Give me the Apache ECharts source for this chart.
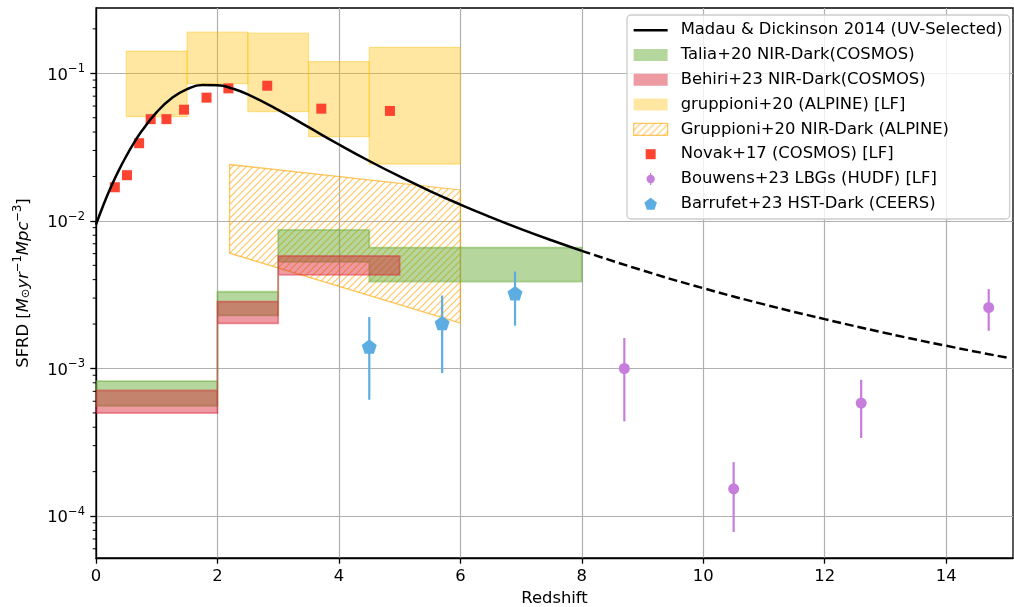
<!DOCTYPE html>
<html><head><meta charset="utf-8">
<script src="https://cdn.jsdelivr.net/npm/echarts@6/dist/echarts.min.js"></script>
<style>html,body{margin:0;padding:0;background:#fff}#c{width:1014px;height:607px}</style>
</head><body><div id="c"></div>
<script>
// ---------------- data ----------------
const madauSolidZ = [0,0.125,0.25,0.375,0.5,0.625,0.75,1,1.25,1.5,1.75,2,2.25,2.5,3,3.5,4,4.5,5,5.5,6,6.5,7,7.5,8];
const madauSolidV = [0.00943,0.01292,0.01711,0.02199,0.02755,0.03374,0.04043,0.05459,0.06798,0.07814,0.08325,0.08307,0.07874,0.07197,0.05656,0.04314,0.03294,0.02546,0.01999,0.01594,0.01291,0.01060,0.00880,0.00739,0.00627];
const madauDashZ = [8,9,10,11,12,13,14,15];
const madauDashV = [0.00627,0.00462,0.00350,0.00272,0.00216,0.00174,0.001425,0.001185];

const taliaZ0 = [0,2,3,4.5];
const taliaZ1 = [2,3,4.5,8];
const taliaLo = [0.000559,0.00229,0.00528,0.00388];
const taliaHi = [0.000822,0.00331,0.00868,0.00660];

const behiriZ0 = [0,2,3];
const behiriZ1 = [2,3,5];
const behiriLo = [0.000499,0.00202,0.00431];
const behiriHi = [0.00071,0.00284,0.00579];

const gruppZ0 = [0.5,1.5,2.5,3.5,4.5];
const gruppZ1 = [1.5,2.5,3.5,4.5,6.0];
const gruppLo = [0.0508,0.085,0.055,0.0372,0.0243];
const gruppHi = [0.1415,0.19,0.187,0.12,0.150];

const nirZ  = [2.2,6.0];
const nirLo = [0.00604,0.00203];
const nirHi = [0.0241,0.0162];

const novakZ = [0.31,0.51,0.71,0.90,1.16,1.45,1.82,2.18,2.82,3.71,4.84];
const novakV = [0.0169,0.0204,0.0336,0.0489,0.0489,0.0567,0.0684,0.0791,0.0824,0.0576,0.0556];

const bouwensZ  = [8.7,10.5,12.6,14.7];
const bouwensV  = [0.00100,0.000153,0.000583,0.00259];
const bouwensLo = [0.000438,0.0000780,0.000338,0.00180];
const bouwensHi = [0.00161,0.000232,0.000838,0.00345];

const barrufetZ  = [4.5,5.7,6.9];
const barrufetV  = [0.00141,0.00203,0.00324];
const barrufetLo = [0.000614,0.000931,0.00195];
const barrufetHi = [0.00223,0.00312,0.00454];

const xTicks = [0,2,4,6,8,10,12,14];
const yMajorTicks = [1e-4,1e-3,1e-2,1e-1];
const yMinorTicks = [6e-5,7e-5,8e-5,9e-5,2e-4,3e-4,4e-4,5e-4,6e-4,7e-4,8e-4,9e-4,2e-3,3e-3,4e-3,5e-3,6e-3,7e-3,8e-3,9e-3,2e-2,3e-2,4e-2,5e-2,6e-2,7e-2,8e-2,9e-2,2e-1];

const N_MADAU = 'Madau & Dickinson 2014 (UV-Selected)';
const N_TALIA = 'Talia+20 NIR-Dark(COSMOS)';
const N_BEHIRI = 'Behiri+23 NIR-Dark(COSMOS)';
const N_GRUPP = 'gruppioni+20 (ALPINE) [LF]';
const N_NIR = 'Gruppioni+20 NIR-Dark (ALPINE)';
const N_NOVAK = 'Novak+17 (COSMOS) [LF]';
const N_BOUW = 'Bouwens+23 LBGs (HUDF) [LF]';
const N_BARR = 'Barrufet+23 HST-Dark (CEERS)';

// ---------------- styles ----------------
const FONT = 'DejaVu Sans';
const FS = 16.4;
const YEL = 'rgba(255,191,0,0.37)';
const GRN = 'rgba(100,170,50,0.48)';
const RED = 'rgba(215,30,50,0.45)';
const HATCH = 'rgba(255,165,0,0.62)';
const NOVAKC = '#fd4430';
const BOUWC = '#c77ddc';
const BARRC = '#5dade2';
const PENTA = 'path://M6.5,0L13,4.9L10.5,12.5L2.5,12.5L0,4.9Z';

function hatchPattern(){
  const s = 7, c = document.createElement('canvas');
  c.width = s; c.height = s;
  const g = c.getContext('2d');
  g.strokeStyle = HATCH; g.lineWidth = 1.2;
  g.beginPath();
  g.moveTo(0, s); g.lineTo(s, 0);
  g.moveTo(-1, 1); g.lineTo(1, -1);
  g.moveTo(s - 1, s + 1); g.lineTo(s + 1, s - 1);
  g.stroke();
  return {image: c, repeat: 'repeat'};
}
const PAT = hatchPattern();

function rows4(a, b, c, d){ return a.map((v, i) => [v, b[i], c[i], d[i]]); }
function pairs(a, b){ return a.map((v, i) => [v, b[i]]); }

function stepPolygon(z0, z1, lo, hi, color){
  return function(params, api){
    if (params.dataIndex !== 0) return null;
    const pts = [];
    for (let i = 0; i < z0.length; i++){ pts.push(api.coord([z0[i], hi[i]])); pts.push(api.coord([z1[i], hi[i]])); }
    for (let i = z0.length - 1; i >= 0; i--){ pts.push(api.coord([z1[i], lo[i]])); pts.push(api.coord([z0[i], lo[i]])); }
    return {type: 'polygon', shape: {points: pts}, style: {fill: color, stroke: color, lineWidth: 1.8}};
  };
}
function boxItem(params, api){
  const p0 = api.coord([api.value(0), api.value(3)]);
  const p1 = api.coord([api.value(1), api.value(2)]);
  return {type: 'rect', shape: {x: p0[0], y: p0[1], width: p1[0] - p0[0], height: p1[1] - p0[1]},
    style: {fill: YEL, stroke: YEL, lineWidth: 1.3}};
}
function errItem(color){
  return function(params, api){
    const a = api.coord([api.value(0), api.value(1)]);
    const b = api.coord([api.value(0), api.value(2)]);
    return {type: 'line', shape: {x1: a[0], y1: a[1], x2: b[0], y2: b[1]}, style: {stroke: color, lineWidth: 2.2}};
  };
}

const chart = echarts.init(document.getElementById('c'), null, {renderer: 'canvas'});
chart.setOption({
  animation: false,
  backgroundColor: '#fff',
  grid: {left: 96, right: 1, top: 8, bottom: 49, containLabel: false, outerBoundsMode: 'none',
    show: true, borderColor: '#000', borderWidth: 1.3, backgroundColor: 'transparent'},
  xAxis: {
    type: 'value', min: 0, max: 15.1, interval: 2,
    name: 'Redshift', nameLocation: 'middle', nameGap: 33,
    nameTextStyle: {fontFamily: FONT, fontSize: FS, color: '#000'},
    axisLine: {show: true, lineStyle: {color: '#000', width: 1.3}},
    axisTick: {show: true, length: 5.7, lineStyle: {color: '#000', width: 1.3}, customValues: xTicks},
    axisLabel: {fontFamily: FONT, fontSize: FS, color: '#000', margin: 11, customValues: xTicks,
      formatter: v => (Math.abs(v % 2) < 1e-9 ? String(v) : '')},
    splitLine: {show: true, lineStyle: {color: '#b0b0b0', width: 1.2}}
  },
  yAxis: {
    type: 'log', logBase: 10, min: 5.2e-5, max: 0.277,
    name: '{n|SFRD [}{i|M}{sub|⊙}{i|yr}{sup|−1}{i|Mpc}{sup|−3}{n|]}',
    nameLocation: 'middle', nameRotate: 90, nameGap: 64,
    nameTextStyle: {
      fontFamily: FONT, fontSize: FS, color: '#000',
      rich: {
        n: {fontFamily: FONT, fontSize: FS, lineHeight: 20, verticalAlign: 'bottom', color: '#000'},
        i: {fontFamily: FONT, fontSize: FS, fontStyle: 'italic', lineHeight: 20, verticalAlign: 'bottom', color: '#000'},
        sup: {fontFamily: FONT, fontSize: 11.5, verticalAlign: 'top', color: '#000'},
        sub: {fontFamily: FONT, fontSize: 11.5, verticalAlign: 'bottom', color: '#000'}
      }
    },
    axisLine: {show: true, lineStyle: {color: '#000', width: 1.3}},
    axisTick: {show: true, length: 5.7, lineStyle: {color: '#000', width: 1.3}, customValues: yMajorTicks},
    axisLabel: {
      margin: 11, customValues: yMajorTicks,
      formatter: function(v){
        const l = Math.log10(v), e = Math.round(l);
        if (Math.abs(l - e) > 1e-6) return '';
        return '{b|10}{e|' + (e < 0 ? '−' + (-e) : e) + '}';
      },
      rich: {
        b: {fontFamily: FONT, fontSize: FS, lineHeight: 20, verticalAlign: 'bottom', color: '#000'},
        e: {fontFamily: FONT, fontSize: 11.5, verticalAlign: 'top', color: '#000'}
      }
    },
    splitLine: {show: true, lineStyle: {color: '#b0b0b0', width: 1.2}},
    minorTick: {show: false}
  },
  legend: {
    left: 627, top: 15, orient: 'vertical', selectedMode: false,
    padding: [7, 7, 7, 6], itemWidth: 34, itemHeight: 12, itemGap: 8.4,
    backgroundColor: 'rgba(255,255,255,0.8)', borderColor: '#cccccc', borderWidth: 1.3, borderRadius: 4,
    textStyle: {fontFamily: FONT, fontSize: FS, color: '#000', lineHeight: 16.4, padding: [0, 0, 0, 8]},
    data: [
      {name: N_MADAU, icon: 'path://M0,0h34v2.5h-34z', itemStyle: {color: '#000', borderWidth: 0}},
      {name: N_TALIA, icon: 'rect', itemStyle: {color: GRN, borderWidth: 0}},
      {name: N_BEHIRI, icon: 'rect', itemStyle: {color: RED, borderWidth: 0}},
      {name: N_GRUPP, icon: 'rect', itemStyle: {color: YEL, borderWidth: 0}},
      {name: N_NIR, icon: 'rect', itemStyle: {color: PAT, borderColor: HATCH, borderWidth: 1.3}},
      {name: N_NOVAK, icon: 'path://M0,0M12,12M1,1h10v10h-10z', itemStyle: {color: NOVAKC}},
      {name: N_BOUW, icon: 'path://M5.3,0h1.4v13h-1.4zM1.5,6.5a4.5,4.5 0 1 1 9,0a4.5,4.5 0 1 1 -9,0z', itemStyle: {color: BOUWC}},
      {name: N_BARR, icon: PENTA, itemStyle: {color: BARRC}}
    ]
  },
  series: [
    {name: N_GRUPP, type: 'custom', renderItem: boxItem, itemStyle: {color: YEL},
      encode: {x: [0, 1], y: [2, 3]}, data: rows4(gruppZ0, gruppZ1, gruppLo, gruppHi), silent: true},
    {name: N_NIR, type: 'custom', itemStyle: {color: HATCH},
      renderItem: function(params, api){
        if (params.dataIndex !== 0) return null;
        const pts = [api.coord([nirZ[0], nirHi[0]]), api.coord([nirZ[1], nirHi[1]]),
                     api.coord([nirZ[1], nirLo[1]]), api.coord([nirZ[0], nirLo[0]])];
        return {type: 'polygon', shape: {points: pts}, style: {fill: PAT, stroke: HATCH, lineWidth: 1.3}};
      },
      encode: {x: 0, y: [1, 2]}, data: nirZ.map((z, i) => [z, nirLo[i], nirHi[i]]), silent: true},
    {name: N_TALIA, type: 'custom', itemStyle: {color: GRN},
      renderItem: stepPolygon(taliaZ0, taliaZ1, taliaLo, taliaHi, GRN),
      encode: {x: [0, 1], y: [2, 3]}, data: rows4(taliaZ0, taliaZ1, taliaLo, taliaHi), silent: true},
    {name: N_BEHIRI, type: 'custom', itemStyle: {color: RED},
      renderItem: stepPolygon(behiriZ0, behiriZ1, behiriLo, behiriHi, RED),
      encode: {x: [0, 1], y: [2, 3]}, data: rows4(behiriZ0, behiriZ1, behiriLo, behiriHi), silent: true},
    {name: N_NOVAK, type: 'scatter', symbol: 'rect', symbolSize: 10, itemStyle: {color: NOVAKC, opacity: 1},
      data: pairs(novakZ, novakV), silent: true},
    {name: N_MADAU, type: 'line', showSymbol: false, symbol: 'none', smooth: true,
      lineStyle: {color: '#000', width: 2.5}, itemStyle: {color: '#000'},
      data: pairs(madauSolidZ, madauSolidV), silent: true},
    {name: 'madau-extrap', type: 'line', showSymbol: false, symbol: 'none', smooth: true,
      lineStyle: {color: '#000', width: 2.5, type: [9, 4]}, itemStyle: {color: '#000'},
      data: pairs(madauDashZ, madauDashV), silent: true},
    {name: 'bouwens-err', type: 'custom', renderItem: errItem(BOUWC), encode: {x: 0, y: [1, 2]},
      data: bouwensZ.map((z, i) => [z, bouwensLo[i], bouwensHi[i]]), silent: true},
    {name: N_BOUW, type: 'scatter', symbol: 'circle', symbolSize: 11, itemStyle: {color: BOUWC, opacity: 1},
      data: pairs(bouwensZ, bouwensV), silent: true},
    {name: 'barrufet-err', type: 'custom', renderItem: errItem(BARRC), encode: {x: 0, y: [1, 2]},
      data: barrufetZ.map((z, i) => [z, barrufetLo[i], barrufetHi[i]]), silent: true},
    {name: N_BARR, type: 'scatter', symbol: PENTA, symbolSize: [15, 14.5], itemStyle: {color: BARRC, opacity: 1},
      data: pairs(barrufetZ, barrufetV), silent: true},
    {name: 'minor-ticks', type: 'custom', silent: true, encode: {x: 0, y: 1},
      renderItem: function(params, api){
        const p = api.coord([api.value(0), api.value(1)]);
        return {type: 'line', shape: {x1: p[0] - 3.3, y1: p[1], x2: p[0], y2: p[1]}, style: {stroke: '#000', lineWidth: 1}};
      },
      data: yMinorTicks.map(v => [0, v])}
  ]
});
</script>
</body></html>
